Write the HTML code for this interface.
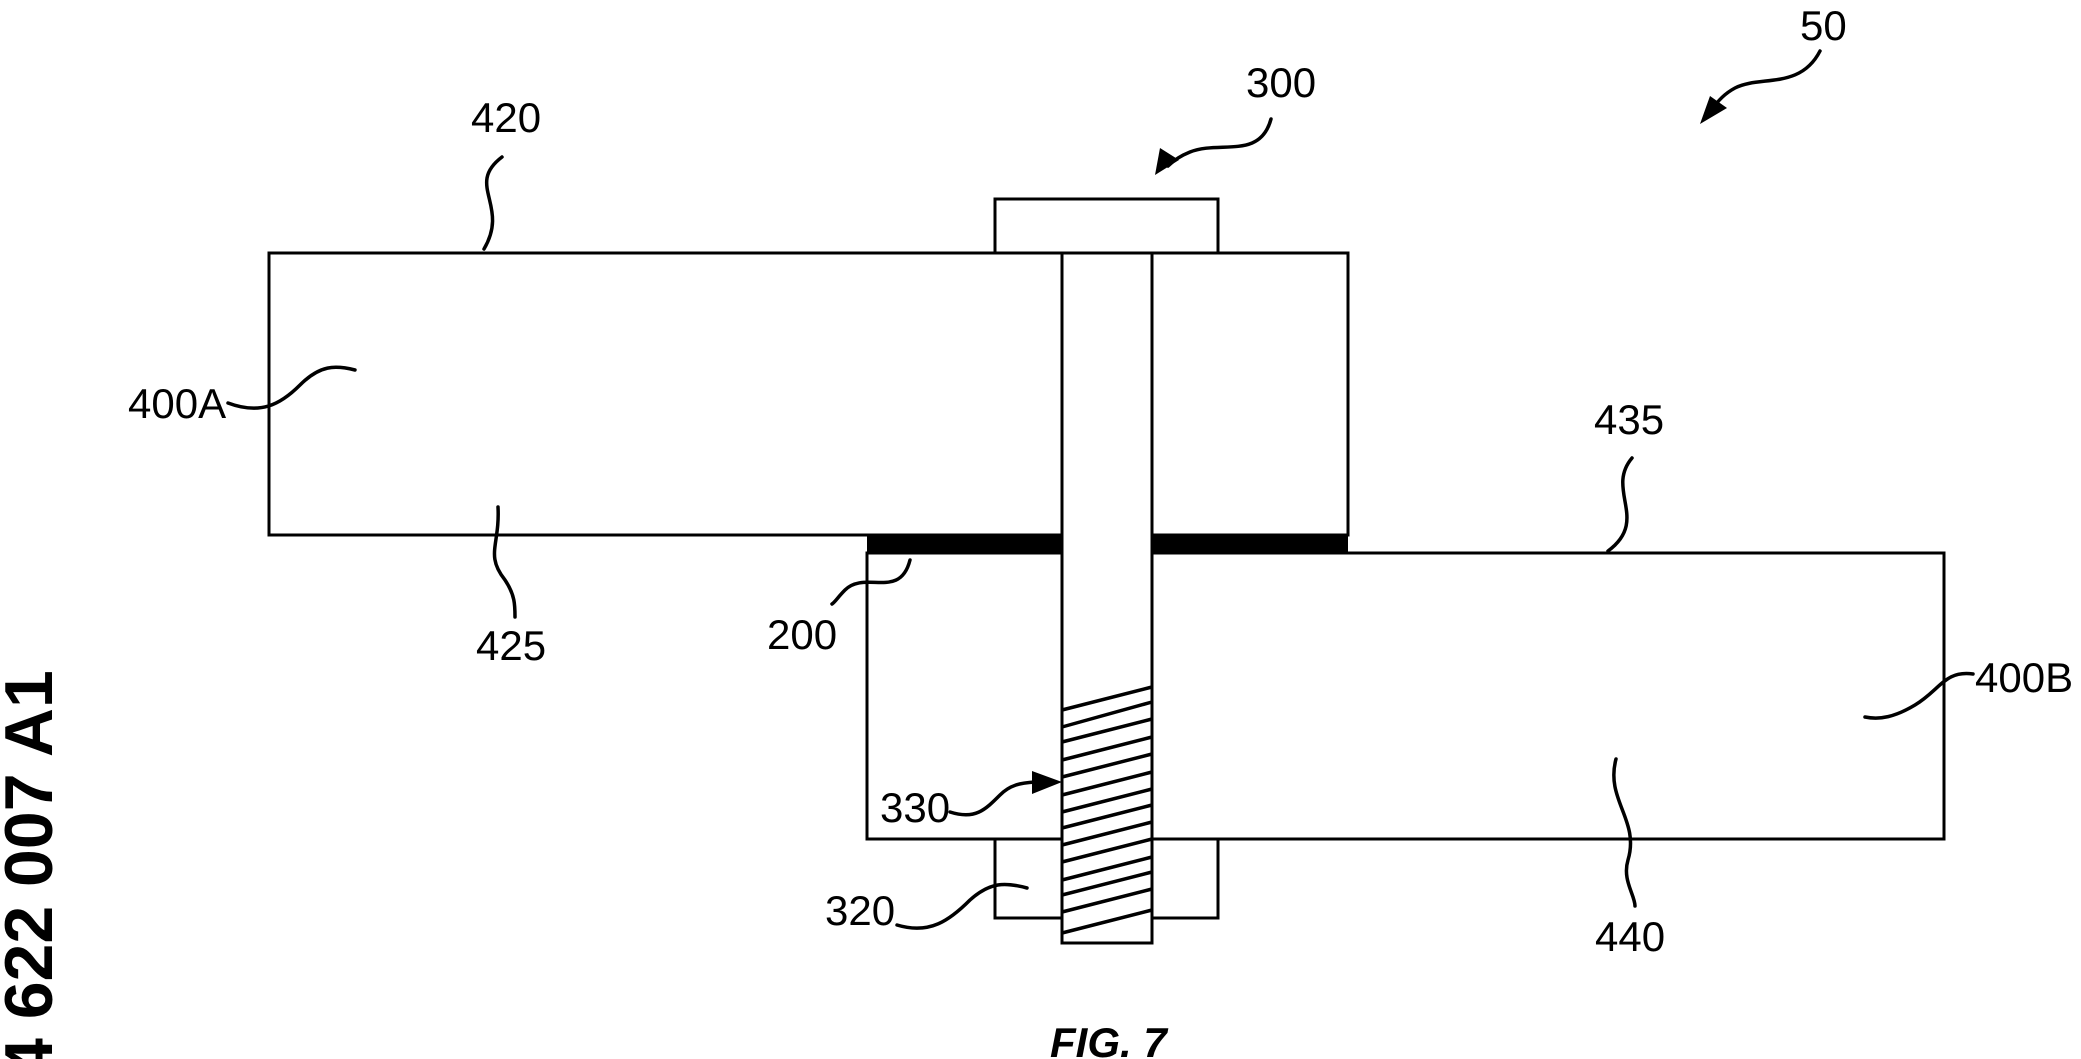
<!DOCTYPE html>
<html><head><meta charset="utf-8"><style>
html,body{margin:0;padding:0;background:#fff;}
svg{display:block;}
text{font-family:"Liberation Sans",Arial,sans-serif;fill:#000;}
</style></head><body>
<svg width="2081" height="1059" viewBox="0 0 2081 1059" xmlns="http://www.w3.org/2000/svg">
<g fill="#fff" stroke="#000" stroke-width="3">
  <rect x="995" y="199" width="223" height="54"/>
  <rect x="269" y="253" width="1079" height="282"/>
  <rect x="867" y="553" width="1077" height="286"/>
  <rect x="995" y="839" width="223" height="79"/>
  <rect x="1062" y="253" width="90" height="690"/>
</g>
<rect x="867" y="535" width="195" height="18" fill="#000"/>
<rect x="1152" y="535" width="196" height="18" fill="#000"/>
<g stroke="#000" stroke-width="3.5">
  <line x1="1062" y1="710" x2="1152" y2="687"/>
  <line x1="1062" y1="727" x2="1152" y2="702"/>
  <line x1="1062" y1="742" x2="1152" y2="719"/>
  <line x1="1062" y1="760" x2="1152" y2="737"/>
  <line x1="1062" y1="777" x2="1152" y2="754"/>
  <line x1="1062" y1="795" x2="1152" y2="772"/>
  <line x1="1062" y1="812" x2="1152" y2="789"/>
  <line x1="1062" y1="828" x2="1152" y2="805"/>
  <line x1="1062" y1="845" x2="1152" y2="822"/>
  <line x1="1062" y1="862" x2="1152" y2="839"/>
  <line x1="1062" y1="880" x2="1152" y2="857"/>
  <line x1="1062" y1="895" x2="1152" y2="872"/>
  <line x1="1062" y1="912" x2="1152" y2="889"/>
  <line x1="1062" y1="933" x2="1152" y2="910"/>
</g>
<g fill="none" stroke="#000" stroke-width="3.5" stroke-linecap="round">
  <path d="M1820,51 C1800,90 1760,75 1735,88 C1722,95 1715,105 1712,110"/>
  <path d="M1271,119 C1260,160 1220,140 1190,152 C1180,156 1172,162 1168,166"/>
  <path d="M502,157 C465,185 510,205 484,249"/>
  <path d="M228,403 C260,415 280,405 300,385 C320,365 335,365 355,370"/>
  <path d="M498,507 C500,545 485,555 505,580 C515,595 515,605 515,617"/>
  <path d="M910,560 C900,600 865,570 845,590 C838,597 835,602 832,604"/>
  <path d="M1632,458 C1605,490 1650,520 1608,551"/>
  <path d="M1973,674 C1945,670 1940,690 1915,705 C1895,717 1880,720 1865,717"/>
  <path d="M950,812 C975,820 985,810 1000,795 C1010,785 1020,783 1035,782"/>
  <path d="M897,925 C930,935 950,920 970,900 C990,882 1005,882 1027,888"/>
  <path d="M1616,759 C1605,800 1640,820 1628,860 C1622,880 1635,895 1635,906"/>
</g>
<polygon points="1700,124 1710,96 1727,108" fill="#000"/>
<polygon points="1155,175 1160,148 1179,160" fill="#000"/>
<polygon points="1062,782 1032,771 1032,794" fill="#000"/>
<g font-size="42">
  <text x="1800" y="40">50</text>
  <text x="1246" y="97">300</text>
  <text x="471" y="132">420</text>
  <text x="128" y="418">400A</text>
  <text x="1594" y="434">435</text>
  <text x="476" y="660">425</text>
  <text x="767" y="649">200</text>
  <text x="1975" y="692">400B</text>
  <text x="880" y="822">330</text>
  <text x="825" y="925">320</text>
  <text x="1595" y="951">440</text>
</g>
<text x="1050" y="1057" font-size="42" font-weight="bold" font-style="italic">FIG. 7</text>
<text transform="translate(52,1076) rotate(-90)" x="0" y="0" font-size="68" font-weight="bold">4 622 007 A1</text>
</svg>
</body></html>
